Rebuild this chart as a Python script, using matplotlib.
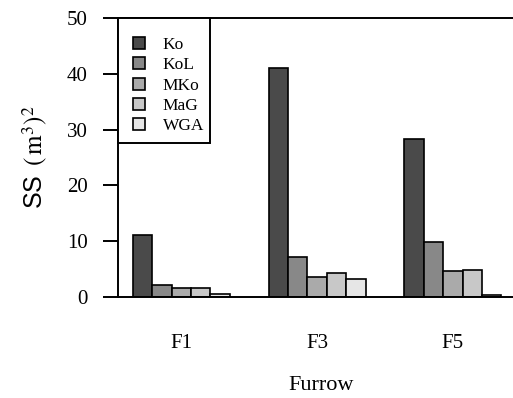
import matplotlib
matplotlib.use("Agg")
import matplotlib.pyplot as plt
from matplotlib.patches import Rectangle
import numpy as np

# values
furrows = ["F1", "F3", "F5"]
treatments = ["Ko", "KoL", "MKo", "MaG", "WGA"]
ss_ko = [11.2, 41.1, 28.4]
ss_kol = [2.2, 7.2, 9.8]
ss_mko = [1.7, 3.5, 4.7]
ss_mag = [1.6, 4.3, 4.8]
ss_wga = [0.6, 3.2, 0.3]
colors = ["#4a4a4a", "#888888", "#aaaaaa", "#c8c8c8", "#e6e6e6"]

plt.rcParams["font.family"] = ["Liberation Serif", "DejaVu Serif"]
plt.rcParams["mathtext.fontset"] = "stix"

W, H = 513, 398
fig = plt.figure(figsize=(W / 100, H / 100), dpi=100)
ax = fig.add_axes([118 / W, 1 - 297 / H, 1 - 118 / W + 0.02, (297 - 18) / H])

series = [ss_ko, ss_kol, ss_mko, ss_mag, ss_wga]
stride = len(treatments) + 2
group_x = np.arange(len(furrows)) * stride
for i, (vals, name, c) in enumerate(zip(series, treatments, colors)):
    ax.bar(group_x + i, vals, width=1.0, align="edge", color=c,
           edgecolor="black", linewidth=1.2, label=name)

ax.set_xlim(-0.77, 19.6 + 0.02 * W / 19.4)
ax.set_ylim(0, 50)
ax.set_yticks([0, 10, 20, 30, 40, 50])
ax.set_xticks(group_x + len(treatments) / 2)
ax.set_xticklabels(furrows, fontsize=15)
ax.tick_params(axis="x", length=0, pad=27)
ax.tick_params(axis="y", length=11, width=1.4, labelsize=15, pad=11)

for s in ["left", "top", "bottom"]:
    ax.spines[s].set_linewidth(1.4)
ax.spines["right"].set_visible(False)

ax.set_xlabel("Furrow", fontsize=16, labelpad=16)
ax.set_ylabel(r"SS $\,(\,\mathrm{m}^3)^2$", fontsize=18, family="Liberation Sans", labelpad=12)

# legend box sits flush with the y axis and the top line
box = Rectangle((118 / W, 1 - 143 / H), 92 / W, 125 / H, transform=fig.transFigure,
                facecolor="white", edgecolor="black", linewidth=1.4, zorder=5)
fig.patches.append(box)
leg = fig.legend(*ax.get_legend_handles_labels(), loc="upper left",
                 bbox_to_anchor=(133 / W, 1 - 37 / H), borderaxespad=0, borderpad=0,
                 fontsize=12.5, frameon=False,
                 handlelength=0.7, handleheight=0.7, labelspacing=0.24,
                 handletextpad=1.0)
leg.set_zorder(6)

fig.savefig("out.png", dpi=100)
